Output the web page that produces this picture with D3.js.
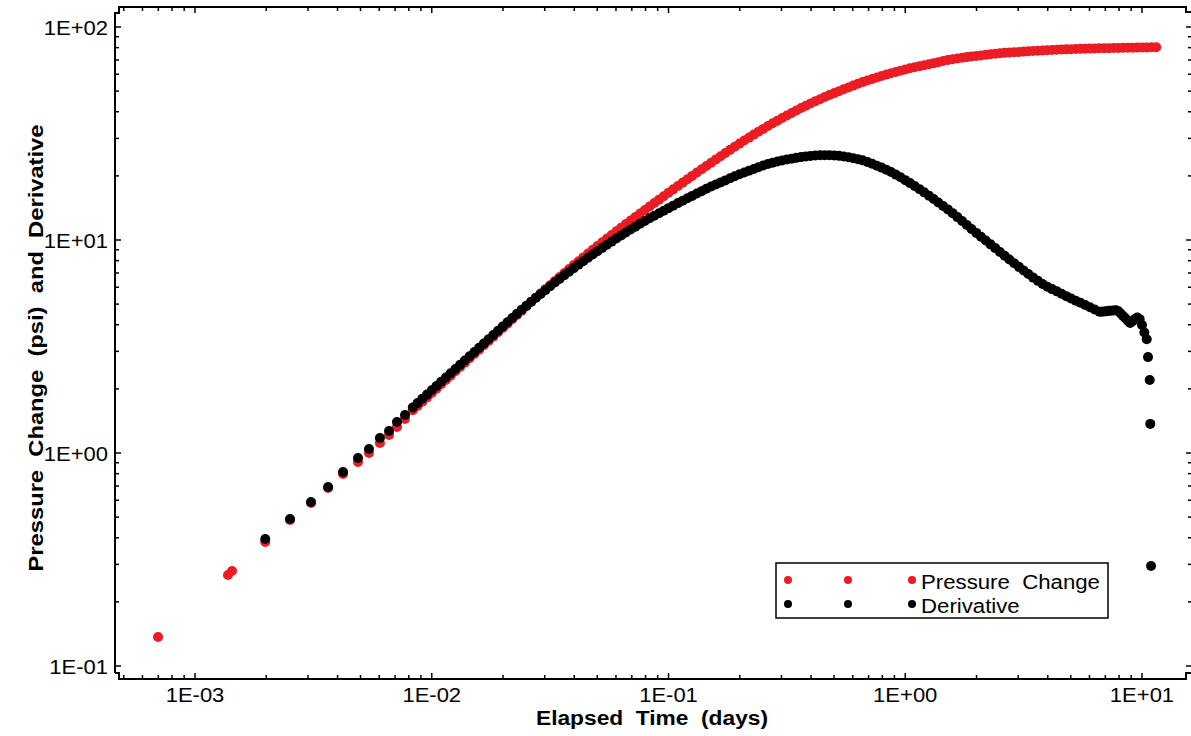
<!DOCTYPE html>
<html>
<head>
<meta charset="utf-8">
<script src="https://cdn.jsdelivr.net/npm/d3@7"></script>
<style>
  body { margin: 0; background: #fff; }
  svg { display: block; }
  text { font-family: "Liberation Sans", Arial, Helvetica, sans-serif; fill: #000; }
</style>
</head>
<body>
<svg id="chart" width="1191" height="736"></svg>
<script>
// ---------------- data (elapsed time in days, pressure in psi) ----------------

// first pressure readings, recorded before the derivative starts
const earlyDays = [0.000698, 0.001378, 0.001433];
const earlyPressure = [0.1368, 0.2675, 0.2793];

// times shared by both series
const days = [
  0.00198, 0.00252, 0.00309, 0.00365, 0.00422, 0.00488, 0.00543, 0.00604, 0.0066, 0.00713, 0.00771,
  0.008318, 0.00871, 0.00912, 0.00955, 0.01, 0.01047, 0.01096, 0.01148, 0.01202, 0.01259,
  0.01318, 0.0138, 0.01445, 0.01514, 0.01585, 0.0166, 0.01738, 0.0182, 0.01905, 0.01995,
  0.02089, 0.02188, 0.02291, 0.02399, 0.02512, 0.0263, 0.02754, 0.02884, 0.0302, 0.03162,
  0.03311, 0.03467, 0.03631, 0.03802, 0.03981, 0.04169, 0.04365, 0.04571, 0.04786, 0.05012,
  0.05248, 0.05495, 0.05754, 0.06026, 0.0631, 0.06607, 0.06918, 0.07244, 0.07586, 0.07943,
  0.08318, 0.0871, 0.0912, 0.0955, 0.1, 0.1047, 0.1096, 0.1148, 0.1202, 0.1259,
  0.1318, 0.138, 0.1445, 0.1514, 0.1585, 0.166, 0.1738, 0.182, 0.1905, 0.1995,
  0.2089, 0.2188, 0.2291, 0.2399, 0.2512, 0.263, 0.2754, 0.2884, 0.302, 0.3162,
  0.3311, 0.3467, 0.3631, 0.3802, 0.3981, 0.4169, 0.4365, 0.4571, 0.4786, 0.5012,
  0.5248, 0.5495, 0.5754, 0.6026, 0.631, 0.6607, 0.6918, 0.7244, 0.7586, 0.7943,
  0.8318, 0.871, 0.912, 0.955, 1, 1.047, 1.096, 1.148, 1.202, 1.259,
  1.318, 1.38, 1.445, 1.514, 1.585, 1.66, 1.738, 1.82, 1.905, 1.995,
  2.089, 2.188, 2.291, 2.399, 2.512, 2.63, 2.754, 2.884, 3.02, 3.162,
  3.311, 3.467, 3.631, 3.802, 3.981, 4.169, 4.365, 4.571, 4.786, 5.012,
  5.248, 5.495, 5.754, 6.026, 6.31, 6.607, 6.918, 7.244, 7.586, 7.943,
  8.318, 8.71, 9.12, 9.55, 10, 10.47
];

const pressureChange = [
  0.382, 0.485, 0.582, 0.685, 0.797, 0.907, 1.0, 1.114, 1.215, 1.325, 1.444,
  1.586, 1.662, 1.741, 1.825, 1.913, 2.004, 2.101, 2.202, 2.307, 2.418,
  2.534, 2.656, 2.783, 2.917, 3.057, 3.203, 3.357, 3.518, 3.687, 3.864,
  4.049, 4.244, 4.447, 4.661, 4.885, 5.12, 5.358, 5.609, 5.871, 6.135,
  6.411, 6.7, 6.997, 7.305, 7.626, 7.95, 8.285, 8.635, 8.991, 9.365,
  9.752, 10.15, 10.56, 10.99, 11.43, 11.88, 12.34, 12.82, 13.31, 13.82,
  14.36, 14.91, 15.47, 16.06, 16.66, 17.29, 17.94, 18.6, 19.29, 20.0,
  20.74, 21.48, 22.27, 23.08, 23.9, 24.75, 25.62, 26.5, 27.41, 28.35,
  29.29, 30.25, 31.25, 32.23, 33.24, 34.28, 35.31, 36.34, 37.39, 38.45,
  39.48, 40.55, 41.69, 42.72, 43.78, 44.81, 45.83, 46.88, 47.95, 48.94,
  49.95, 50.99, 52.02, 53.06, 54.13, 55.11, 56.06, 57.04, 57.98, 58.86,
  59.78, 60.67, 61.5, 62.36, 63.21, 63.97, 64.74, 65.51, 66.19, 66.88,
  67.56, 68.36, 69.18, 70.01, 70.65, 71.19, 71.72, 72.21, 72.66, 73.11,
  73.56, 73.99, 74.43, 74.87, 75.34, 75.6, 75.86, 76.12, 76.38, 76.65,
  76.88, 77.12, 77.35, 77.6, 77.83, 78.04, 78.21, 78.37, 78.53, 78.7,
  78.84, 78.95, 79.06, 79.17, 79.29, 79.41, 79.5, 79.57, 79.66, 79.74,
  79.81, 79.88, 79.96, 80.04, 80.12, 80.19
];

const derivative = [
  0.395, 0.49, 0.589, 0.692, 0.814, 0.947, 1.044, 1.176, 1.268, 1.398, 1.508,
  1.637, 1.715, 1.796, 1.88, 1.969, 2.062, 2.159, 2.261, 2.367, 2.479,
  2.596, 2.718, 2.846, 2.98, 3.121, 3.268, 3.422, 3.583, 3.752, 3.929,
  4.114, 4.304, 4.5, 4.703, 4.913, 5.13, 5.353, 5.582, 5.818, 6.061,
  6.312, 6.568, 6.831, 7.101, 7.379, 7.663, 7.954, 8.251, 8.555, 8.864,
  9.18, 9.502, 9.829, 10.16, 10.5, 10.85, 11.2, 11.55, 11.92, 12.28,
  12.65, 13.0, 13.36, 13.73, 14.11, 14.5, 14.9, 15.3, 15.7, 16.11,
  16.52, 16.95, 17.39, 17.83, 18.23, 18.64, 19.05, 19.49, 19.92, 20.37,
  20.76, 21.15, 21.55, 21.96, 22.38, 22.75, 23.08, 23.37, 23.63, 23.86,
  24.05, 24.3, 24.5, 24.68, 24.82, 24.93, 25.0, 25.03, 25.02, 24.95,
  24.83, 24.66, 24.46, 24.23, 23.97, 23.65, 23.25, 22.8, 22.33, 21.87,
  21.38, 20.85, 20.28, 19.69, 19.1, 18.5, 17.92, 17.33, 16.74, 16.15,
  15.57, 15.0, 14.45, 13.92, 13.37, 12.81, 12.28, 11.76, 11.27, 10.8,
  10.35, 9.94, 9.54, 9.16, 8.79, 8.44, 8.1, 7.78, 7.48, 7.19,
  6.92, 6.66, 6.43, 6.22, 6.04, 5.88, 5.74, 5.59, 5.45, 5.32,
  5.19, 5.07, 4.95, 4.83, 4.72, 4.61, 4.62, 4.65, 4.67, 4.63,
  4.4, 4.18, 4.16, 4.33, 3.99, 3.42
];

// last pressure readings
const lateDays = [10.96, 11.48];
const latePressure = [80.27, 80.34];

// extra derivative readings in the noisy end section and the end-effect drop
const tailDays = [6.761, 7.079, 7.413, 7.762, 8.128, 8.511, 8.913, 9.333, 9.772, 10.23, 10.6, 10.78, 10.84, 10.92];
const tailDerivative = [4.61, 4.63, 4.66, 4.68, 4.52, 4.29, 4.08, 4.25, 4.25, 3.68, 2.82, 2.2, 1.37, 0.295];

// axis ticks
const xMajorTicks = [1e-3, 1e-2, 1e-1, 1, 10];
const xTickLabels = ["1E-03", "1E-02", "1E-01", "1E+00", "1E+01"];
const yMajorTicks = [0.1, 1, 10, 100];
const yTickLabels = ["1E-01", "1E+00", "1E+01", "1E+02"];

const seriesNames = ["Pressure  Change", "Derivative"];
const seriesColors = ["#eb1c24", "#000000"];

// ---------------- layout ----------------
const frame = { left: 115, right: 1192, top: 7, bottom: 679 };

const svg = d3.select("#chart");

const x = d3.scaleLog().domain([1e-3, 10]).range([195, 1142]);
const y = d3.scaleLog().domain([0.1, 100]).range([666, 27]);

// visible value ranges used to pick minor ticks
const xVis = [x.invert(frame.left + 2), x.invert(frame.right - 2)];
const yVis = [y.invert(frame.bottom - 4), y.invert(frame.top + 4)];

function minorTicks(lo, hi) {
  const out = [];
  for (let e = -5; e <= 3; e++) {
    for (let m = 2; m <= 9; m++) {
      const v = m * Math.pow(10, e);
      if (v >= lo && v <= hi) out.push(v);
    }
  }
  return out;
}
const xMinor = minorTicks(xVis[0], xVis[1]);
const yMinor = minorTicks(yVis[0], yVis[1]);

// stretch text horizontally by a factor (the lettering is wide)
function widen(sel, k) {
  sel.each(function () {
    const L = this.getComputedTextLength();
    d3.select(this).attr("textLength", L * k).attr("lengthAdjust", "spacingAndGlyphs");
  });
}

// ---------------- frame ----------------
const axisG = svg.append("g").attr("fill", "none").attr("stroke", "#000").attr("stroke-width", 2);
axisG.append("path").attr("d",
  `M${frame.left},673V13H119V${frame.top}H1186V12H${frame.right}`);
axisG.append("path").attr("d",
  `M${frame.left},673H119V${frame.bottom}H1186V673H${frame.right}`);

// ticks on all four sides, pointing inward
const tickG = svg.append("g").attr("stroke", "#000").attr("stroke-width", 1.5);
function drawXTicks(vals, len) {
  vals.forEach(v => {
    const px = x(v);
    tickG.append("line").attr("x1", px).attr("x2", px)
      .attr("y1", frame.bottom).attr("y2", frame.bottom - len);
    tickG.append("line").attr("x1", px).attr("x2", px)
      .attr("y1", frame.top).attr("y2", frame.top + len);
  });
}
function drawYTicks(vals, len) {
  vals.forEach(v => {
    const py = y(v);
    tickG.append("line").attr("y1", py).attr("y2", py)
      .attr("x1", frame.left).attr("x2", frame.left + len);
    tickG.append("line").attr("y1", py).attr("y2", py)
      .attr("x1", frame.right).attr("x2", frame.right - len);
  });
}
drawXTicks(xMinor, 4);
drawXTicks(xMajorTicks, 6);
drawYTicks(yMinor, 4);
drawYTicks(yMajorTicks, 6);

// tick labels
const xl = svg.append("g").selectAll("text").data(xMajorTicks).join("text")
  .attr("x", d => x(d)).attr("y", 702)
  .attr("text-anchor", "middle").attr("font-size", 20)
  .text((d, i) => xTickLabels[i]);
widen(xl, 1.1);

const yl = svg.append("g").selectAll("text").data(yMajorTicks).join("text")
  .attr("x", 108).attr("y", d => y(d) + 7.5)
  .attr("text-anchor", "end").attr("font-size", 20)
  .text((d, i) => yTickLabels[i]);
widen(yl, 1.1);

// axis titles
svg.append("text")
  .attr("x", 652).attr("y", 725)
  .attr("text-anchor", "middle").attr("font-size", 20).attr("font-weight", "bold")
  .style("white-space", "pre")
  .attr("textLength", 232).attr("lengthAdjust", "spacingAndGlyphs")
  .text("Elapsed  Time  (days)");

svg.append("text")
  .attr("transform", "translate(43,348) rotate(-90)")
  .attr("text-anchor", "middle").attr("font-size", 20).attr("font-weight", "bold")
  .style("white-space", "pre")
  .attr("textLength", 447).attr("lengthAdjust", "spacingAndGlyphs")
  .text("Pressure  Change  (psi)  and  Derivative");

// ---------------- points ----------------
const R = 5;
const pressurePts = earlyDays.map((t, i) => [t, earlyPressure[i]])
  .concat(days.map((t, i) => [t, pressureChange[i]]))
  .concat(lateDays.map((t, i) => [t, latePressure[i]]));
const derivativePts = days.map((t, i) => [t, derivative[i]])
  .concat(tailDays.map((t, i) => [t, tailDerivative[i]]));

svg.append("g").attr("fill", seriesColors[0])
  .selectAll("circle").data(pressurePts).join("circle")
  .attr("cx", d => x(d[0])).attr("cy", d => y(d[1])).attr("r", R);

svg.append("g").attr("fill", seriesColors[1])
  .selectAll("circle").data(derivativePts).join("circle")
  .attr("cx", d => x(d[0])).attr("cy", d => y(d[1])).attr("r", R);

// ---------------- legend ----------------
const lg = svg.append("g");
lg.append("rect").attr("x", 776).attr("y", 563).attr("width", 332).attr("height", 55)
  .attr("fill", "#fff").attr("stroke", "#000").attr("stroke-width", 1.5);
const legendDotX = [788, 848, 912];
const legendRowY = [580, 604];
seriesNames.forEach((name, i) => {
  legendDotX.forEach(cx => {
    lg.append("circle").attr("cx", cx).attr("cy", legendRowY[i]).attr("r", 4)
      .attr("fill", seriesColors[i]);
  });
  const t = lg.append("text").attr("x", 921).attr("y", legendRowY[i] + 9)
    .attr("font-size", 20).style("white-space", "pre").text(name);
  widen(t, 1.11);
});
</script>
</body>
</html>
